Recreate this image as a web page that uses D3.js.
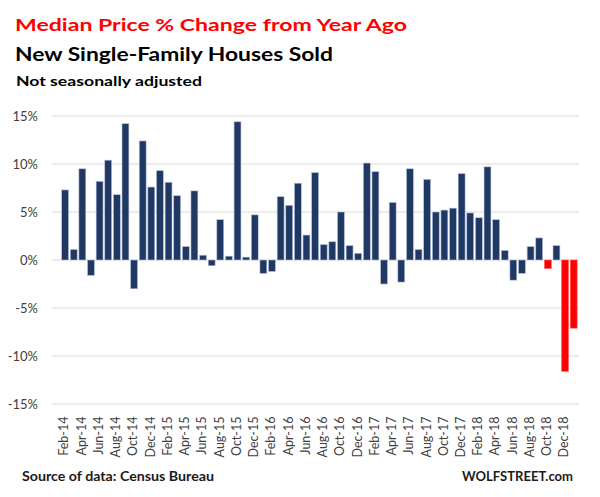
<!DOCTYPE html>
<html><head><meta charset="utf-8">
<script src="https://cdn.jsdelivr.net/npm/d3@7"></script>
<style>body{margin:0;background:#fff}svg{display:block}</style>
</head><body>
<svg id="c" width="600" height="497"></svg>
<script>
const categories = [
"Feb-14","Mar-14","Apr-14","May-14","Jun-14","Jul-14","Aug-14","Sep-14","Oct-14","Nov-14","Dec-14",
"Jan-15","Feb-15","Mar-15","Apr-15","May-15","Jun-15","Jul-15","Aug-15","Sep-15","Oct-15","Nov-15","Dec-15",
"Jan-16","Feb-16","Mar-16","Apr-16","May-16","Jun-16","Jul-16","Aug-16","Sep-16","Oct-16","Nov-16","Dec-16",
"Jan-17","Feb-17","Mar-17","Apr-17","May-17","Jun-17","Jul-17","Aug-17","Sep-17","Oct-17","Nov-17","Dec-17",
"Jan-18","Feb-18","Mar-18","Apr-18","May-18","Jun-18","Jul-18","Aug-18","Sep-18","Oct-18","Nov-18","Dec-18",
"Jan-19"];
const values = [7.3,1.1,9.5,-1.6,8.2,10.4,6.8,14.2,-3.0,12.4,
7.6,9.3,8.1,6.7,1.4,7.2,0.5,-0.6,4.2,0.4,
14.4,0.3,4.7,-1.4,-1.2,6.6,5.7,8.0,2.6,9.1,
1.6,1.9,5.0,1.5,0.7,10.1,9.2,-2.5,6.0,-2.3,
9.5,1.1,8.4,5.0,5.2,5.4,9.0,4.9,4.4,9.7,
4.2,1.0,-2.1,-1.4,1.4,2.3,-0.9,1.5,-11.6,-7.1];
const highlighted = ["Oct-18","Dec-18","Jan-19"];
const tickLabels = ["Feb-14","Apr-14","Jun-14","Aug-14","Oct-14","Dec-14","Feb-15","Apr-15","Jun-15","Aug-15","Oct-15","Dec-15",
"Feb-16","Apr-16","Jun-16","Aug-16","Oct-16","Dec-16","Feb-17","Apr-17","Jun-17","Aug-17","Oct-17","Dec-17",
"Feb-18","Apr-18","Jun-18","Aug-18","Oct-18","Dec-18"];
const yTicks = [-15,-10,-5,0,5,10,15];

const svg = d3.select("#c");
const FONT = "Lato, 'Open Sans', sans-serif";

const x = d3.scaleBand().domain(categories).range([60.8, 578]).paddingInner(0.2).paddingOuter(0.1);
const y = d3.scaleLinear().domain([-15, 15]).range([404, 116]);

// gridlines
svg.append("g").selectAll("line").data(yTicks).join("line")
  .attr("x1", 52).attr("x2", 579)
  .attr("y1", d => y(d)).attr("y2", d => y(d))
  .attr("stroke", "#d9d9d9").attr("stroke-width", 1.2);

// y axis
const yAxis = d3.axisLeft(y).tickValues(yTicks).tickSize(0).tickPadding(0).tickFormat(d => d + "%");
const yg = svg.append("g").attr("transform", "translate(38,0)").call(yAxis);
yg.select(".domain").remove();
yg.selectAll("text").attr("font-family", FONT).attr("font-size", 13).attr("fill", "#404040").attr("dy", "0.36em");

// bars
svg.append("g").selectAll("rect").data(categories).join("rect")
  .attr("x", d => x(d))
  .attr("width", x.bandwidth())
  .attr("y", (d, i) => y(Math.max(0, values[i])))
  .attr("height", (d, i) => Math.abs(y(values[i]) - y(0)))
  .attr("fill", d => highlighted.includes(d) ? "#ff0000" : "#1f3864")
  .attr("stroke", d => highlighted.includes(d) ? "#ff6060" : "#b7c3d9")
  .attr("stroke-width", 0.6);

// x axis
const xAxis = d3.axisBottom(x).tickValues(tickLabels).tickSize(0).tickPadding(0);
const xg = svg.append("g").attr("transform", "translate(-1,416.5)").call(xAxis);
xg.select(".domain").remove();
xg.selectAll("text")
  .attr("font-family", FONT).attr("font-size", 12.5).attr("fill", "#404040")
  .attr("text-anchor", "end").attr("transform", "rotate(-90)")
  .attr("x", 0).attr("y", 0).attr("dx", 0).attr("dy", "0.35em");

function addText(str, xPos, yPos, size, color, width) {
  return svg.append("text").attr("x", xPos).attr("y", yPos)
    .attr("font-family", FONT).attr("font-weight", "bold")
    .attr("font-size", size).attr("fill", color)
    .attr("textLength", width).attr("lengthAdjust", "spacingAndGlyphs")
    .text(str);
}

// titles
addText("Median Price % Change from Year Ago", 15, 31, 17, "#ff0000", 392);
addText("New Single-Family Houses Sold", 15, 60.5, 19, "#000000", 318);
addText("Not seasonally adjusted", 16, 86, 13, "#000000", 186);

// footer
addText("Source of data: Census Bureau", 22, 481, 13.5, "#1a1a1a", 192);
addText("WOLFSTREET.com", 462, 481, 13.5, "#1a1a1a", 111);
</script>
</body></html>
